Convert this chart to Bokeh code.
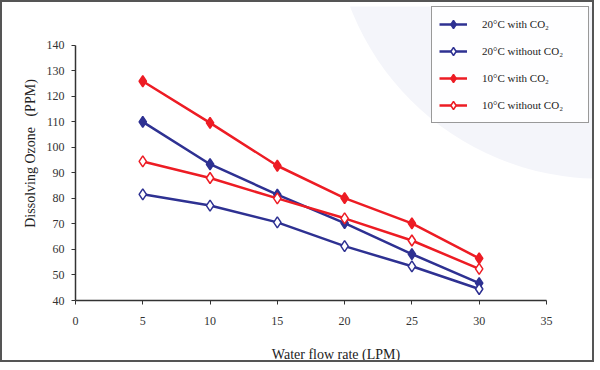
from bokeh.plotting import figure
from bokeh.models import Legend, LegendItem, FixedTicker, ColumnDataSource
from bokeh.embed import file_html
from bokeh.resources import INLINE

flow = [5, 10, 15, 20, 25, 30]
t20_co2 = [110, 93.4, 81.5, 70.3, 58.2, 46.8]
t20_no = [81.6, 77.2, 70.6, 61.3, 53.4, 44.5]
t10_co2 = [125.9, 109.6, 92.8, 80.1, 70.2, 56.5]
t10_no = [94.5, 88.0, 80.0, 72.2, 63.5, 52.4]
x_ticks = [0, 5, 10, 15, 20, 25, 30, 35]
y_ticks = [40, 50, 60, 70, 80, 90, 100, 110, 120, 130, 140]

BLUE = "#2E3192"
RED = "#ED1C24"
FONT = "Liberation Serif"

# frame extends beyond the axis bounds so the legend can sit in the corner
p = figure(width=594, height=362, output_backend="svg", toolbar_location=None,
           x_range=(0, 38.72), y_range=(40, 155.2),
           min_border_left=73, min_border_right=0, min_border_top=4, min_border_bottom=63,
           background_fill_color="white", border_fill_color="white",
           styles={"border": "2px solid #555555"})
p.outline_line_color = None
p.grid.visible = False

# pale decorative disc in the upper right corner
p.circle(x=[39.0], y=[192.7], radius=268, radius_units="screen",
         fill_color="#F4F5FA", line_color=None, level="underlay")

for ax in (p.xaxis, p.yaxis):
    ax.major_label_text_font = FONT
    ax.major_label_text_font_size = "12px"
    ax.major_label_text_color = "#333333"
    ax.axis_line_color = "#333333"
    ax.axis_line_width = 1.5
    ax.major_tick_line_color = "#333333"
    ax.major_tick_in = 0
    ax.major_tick_out = 4
    ax.minor_tick_line_color = None
    ax.axis_label_text_font = FONT
    ax.axis_label_text_font_style = "normal"
    ax.axis_label_text_color = "#222222"
    ax.axis_label_text_font_size = "14px"

p.xaxis.bounds = (0, 35)
p.yaxis.bounds = (40, 140)
p.xaxis.ticker = FixedTicker(ticks=x_ticks)
p.yaxis.ticker = FixedTicker(ticks=y_ticks)
p.xaxis.axis_label = "Water flow rate (LPM)"
p.yaxis.axis_label = "Dissolving Ozone\u00a0\u00a0\u00a0(PPM)"
p.xaxis.major_label_standoff = 12
p.yaxis.major_label_standoff = 7
p.xaxis.axis_label_standoff = 19
p.yaxis.axis_label_standoff = 6

series = [
    ("20°C with CO₂", t20_co2, BLUE, BLUE),
    ("20°C without CO₂", t20_no, BLUE, "white"),
    ("10°C with CO₂", t10_co2, RED, RED),
    ("10°C without CO₂", t10_no, RED, "white"),
]
items = []
for label, ys, col, fill in series:
    src = ColumnDataSource(dict(x=flow, y=ys))
    l = p.line("x", "y", source=src, line_color=col, line_width=2.5)
    m = p.scatter("x", "y", source=src, marker="diamond", size=11,
                  line_color=col, fill_color=fill, line_width=1.5)
    items.append(LegendItem(label=label, renderers=[l, m]))

legend = Legend(items=items, location=(356, 177),
                label_text_font=FONT, label_text_font_size="11px",
                label_text_color="#222222",
                border_line_color="#333333", border_line_width=1,
                background_fill_color="white", background_fill_alpha=0.85,
                glyph_width=28, glyph_height=20, label_standoff=15,
                label_width=99, spacing=7, padding=7, margin=0)
p.add_layout(legend, "center")

html = file_html(p, INLINE)
open("out.html", "w").write(html)
